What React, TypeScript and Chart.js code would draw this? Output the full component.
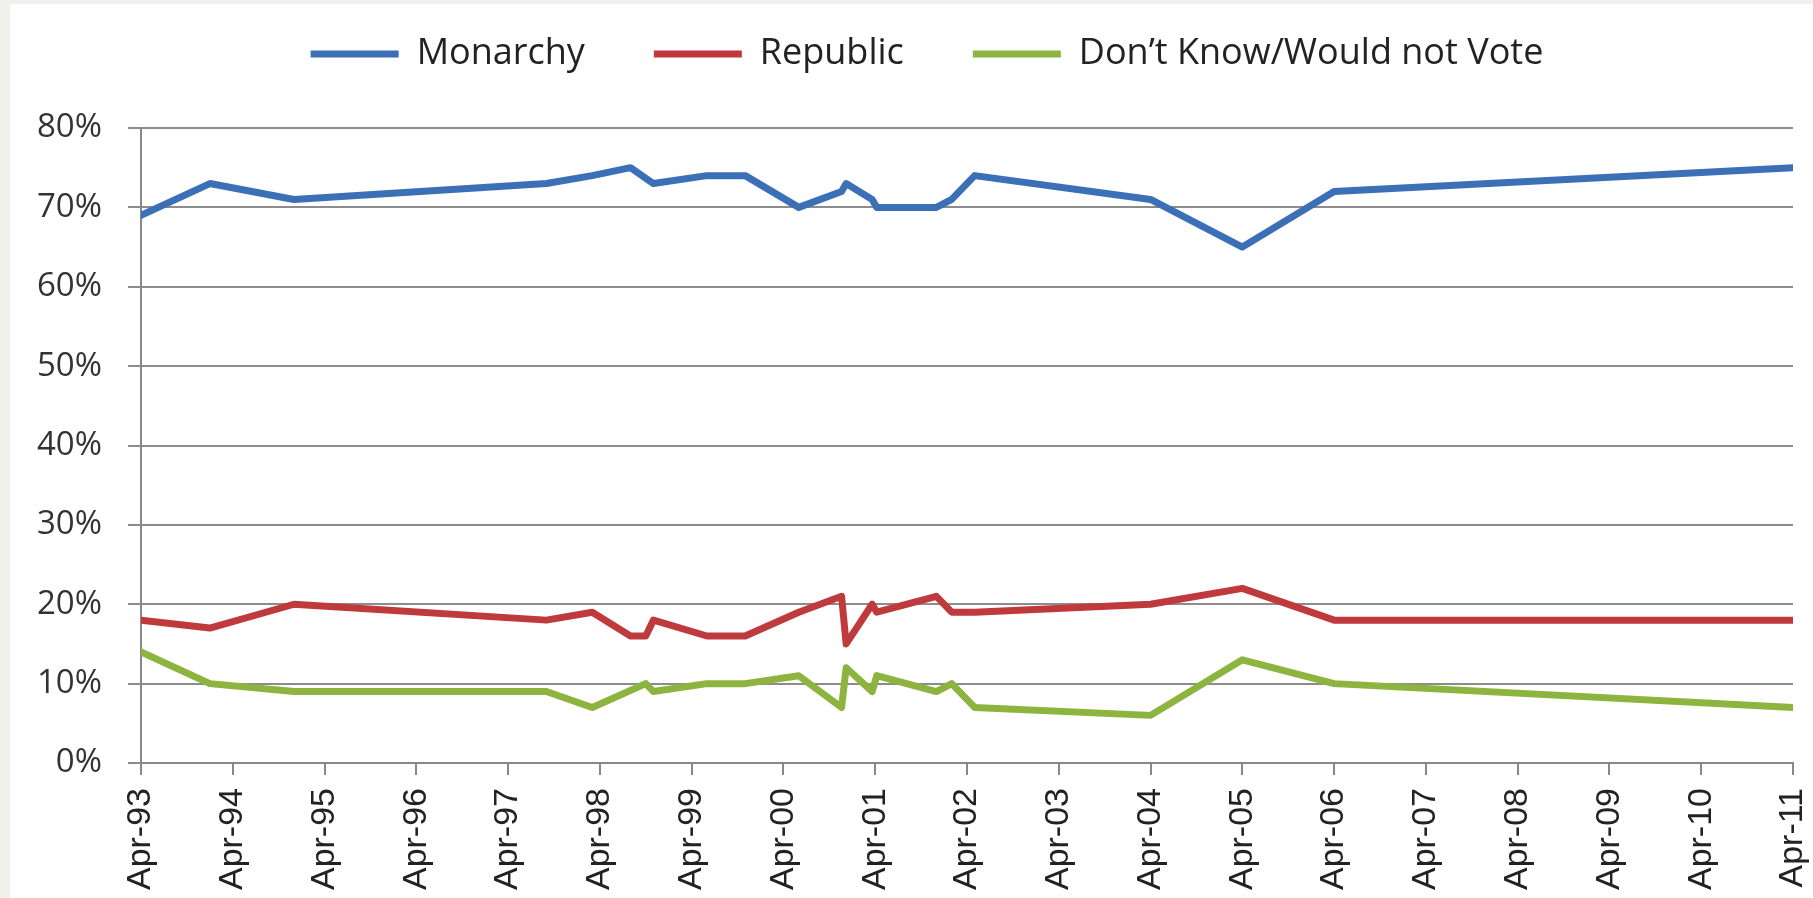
import React, { useEffect, useRef } from "react";
import { Chart, registerables } from "chart.js";

Chart.register(...registerables);

// Survey dates, in months after April 1993
const monthsSinceApr93 = [0, 9, 20, 53, 59, 64, 66, 67, 74, 79, 86, 91.6, 92.2, 95.6, 96.2, 104, 106, 109, 132, 144, 156, 216];
const monarchy = [69, 73, 71, 73, 74, 75, null, 73, 74, 74, 70, 72, 73, 71, 70, 70, 71, 74, 71, 65, 72, 75];
const republic = [18, 17, 20, 18, 19, 16, 16, 18, 16, 16, 19, 21, 15, 20, 19, 21, 19, 19, 20, 22, 18, 18];
const dontKnow = [14, 10, 9, 9, 7, null, 10, 9, 10, 10, 11, 7, 12, 9, 11, 9, 10, 7, 6, 13, 10, 7];

const xTickLabels = [
  "Apr-93", "Apr-94", "Apr-95", "Apr-96", "Apr-97", "Apr-98", "Apr-99", "Apr-00", "Apr-01", "Apr-02",
  "Apr-03", "Apr-04", "Apr-05", "Apr-06", "Apr-07", "Apr-08", "Apr-09", "Apr-10", "Apr-11",
];

const seriesNames = ["Monarchy", "Republic", "Don\u2019t Know/Would not Vote"];
const seriesColors = ["#3b70b6", "#bf3a3c", "#8db43f"];

function toPoints(values: (number | null)[]) {
  return values.map((v, i) => ({ x: monthsSinceApr93[i], y: v }));
}

export default function App() {
  const ref = useRef<HTMLCanvasElement | null>(null);

  useEffect(() => {
    if (!ref.current) return;
    const seriesValues = [monarchy, republic, dontKnow];
    const chart = new Chart(ref.current, {
      type: "line",
      data: {
        datasets: seriesValues.map((vals, i) => ({
          label: seriesNames[i],
          data: toPoints(vals) as any,
          borderColor: seriesColors[i],
          backgroundColor: seriesColors[i],
          borderWidth: 7,
          pointRadius: 0,
          tension: 0,
          spanGaps: true,
          borderJoinStyle: "round" as const,
          borderCapStyle: "round" as const,
          xAxisID: "x",
          yAxisID: "y",
        })),
      },
      options: {
        animation: false,
        responsive: false,
        devicePixelRatio: 1,
        layout: { padding: { top: -37, left: 0, right: -31, bottom: 0 } },
        plugins: {
          tooltip: { enabled: false },
          legend: {
            display: true,
            position: "top",
            labels: {
              usePointStyle: true,
              pointStyle: "line",
              pointStyleWidth: 88,
              padding: 69,
              color: "#222",
              font: { family: "'Open Sans'", size: 36, lineHeight: 1 },
            },
          },
        },
        scales: {
          x: {
            type: "linear",
            min: 0,
            max: 216,
            afterFit: (s: any) => {
              s.height = 135;
              s.paddingLeft = 0;
              s.paddingRight = 20;
            },
            grid: {
              drawOnChartArea: false,
              drawTicks: true,
              tickLength: 12,
              color: "#888888",
              lineWidth: 2,
            },
            border: { display: true, color: "#888888", width: 2 },
            ticks: {
              stepSize: 12,
              autoSkip: false,
              minRotation: 90,
              maxRotation: 90,
              padding: 13,
              color: "#222",
              font: { family: "'Liberation Sans'", size: 34 },
              callback: (v: any) => xTickLabels[Math.round(Number(v) / 12)] ?? "",
            },
          },
          spacer: {
            type: "linear",
            position: "top",
            min: 0,
            max: 1,
            afterFit: (s: any) => {
              s.height = 46;
              s.paddingLeft = 0;
              s.paddingRight = 20;
            },
            grid: { display: false, drawTicks: false },
            border: { display: false },
            ticks: { display: false },
          },
          y: {
            min: 0,
            max: 80,
            afterFit: (s: any) => {
              s.width = 131;
            },
            grid: {
              color: "#8c8c8c",
              lineWidth: 2,
              tickLength: 13,
              drawTicks: true,
            },
            border: { display: true, color: "#888888", width: 2 },
            ticks: {
              stepSize: 10,
              padding: 26,
              color: "#333",
              font: { family: "'Open Sans'", size: 33 },
              callback: (v: any) => `${v}%`,
            },
          },
        },
      },
    });
    return () => chart.destroy();
  }, []);

  return (
    <div
      style={{
        position: "fixed",
        left: 0,
        top: 0,
        width: 1813,
        height: 898,
        background: "#f1f0ec",
        overflow: "hidden",
      }}
    >
      <canvas
        ref={ref}
        width={1803}
        height={894}
        style={{ position: "absolute", left: 10, top: 4, width: 1803, height: 894, background: "#ffffff" }}
      />
    </div>
  );
}
